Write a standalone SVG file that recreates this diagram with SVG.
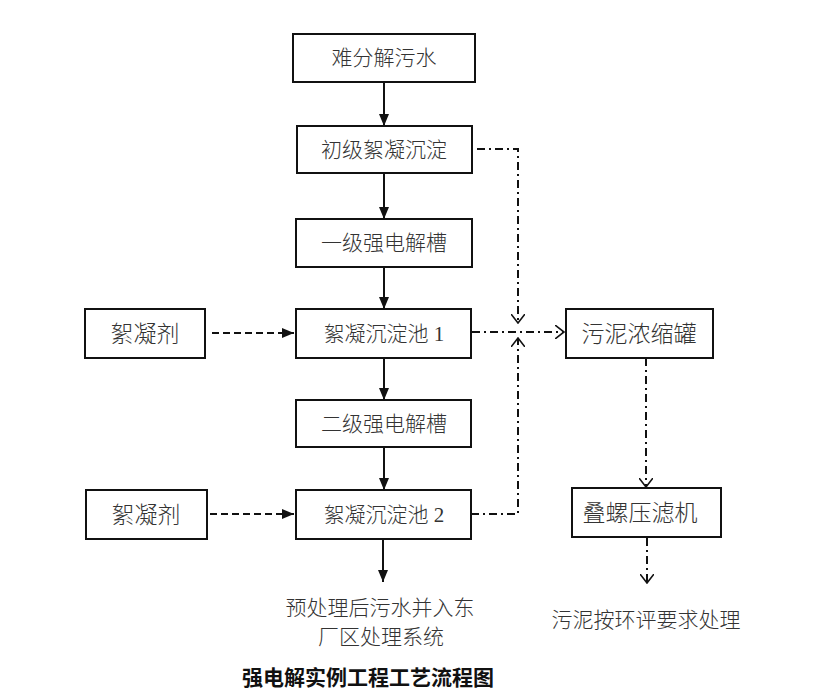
<svg xmlns="http://www.w3.org/2000/svg" width="820" height="692" viewBox="0 0 820 692">
<style>
.box{fill:#fff;stroke:#111;stroke-width:2}
.t{font-family:"Liberation Serif","Noto Sans CJK SC",serif;font-size:21px;fill:#333;text-anchor:middle;dominant-baseline:central;font-weight:300}
.tl{font-size:23px}
.title{font-family:"Liberation Serif","Noto Sans CJK SC",serif;font-size:21px;fill:#111;text-anchor:middle;dominant-baseline:central;font-weight:bold}
.solid{stroke:#111;stroke-width:2;fill:none}
.dash{stroke:#111;stroke-width:2;fill:none;stroke-dasharray:7 4}
.dd{stroke:#111;stroke-width:2;fill:none;stroke-dasharray:8 4 2 4}
</style>
<defs>
<marker id="fa" viewBox="0 0 12 10" refX="12" refY="5" markerWidth="12" markerHeight="10" markerUnits="userSpaceOnUse" orient="auto">
<path d="M0,0 L12,5 L0,10 Z" fill="#111"/>
</marker>
<marker id="oa" viewBox="0 0 10 14" refX="9" refY="7" markerWidth="10" markerHeight="14" markerUnits="userSpaceOnUse" orient="auto">
<path d="M0,0 L9,7 L0,14" fill="none" stroke="#111" stroke-width="1.6"/>
</marker>
</defs>
<rect width="820" height="692" fill="#fff"/>

<g id="connectors">
<line class="solid" x1="384" y1="82" x2="384" y2="126" marker-end="url(#fa)"/>
<line class="solid" x1="384" y1="173" x2="384" y2="219" marker-end="url(#fa)"/>
<line class="solid" x1="384" y1="267" x2="384" y2="309" marker-end="url(#fa)"/>
<line class="solid" x1="384" y1="358" x2="384" y2="400" marker-end="url(#fa)"/>
<line class="solid" x1="384" y1="447" x2="384" y2="490" marker-end="url(#fa)"/>
<line class="solid" x1="383" y1="539" x2="383" y2="582" marker-end="url(#fa)"/>
<line class="dash" x1="212" y1="333" x2="294" y2="333" marker-end="url(#fa)"/>
<line class="dash" x1="210" y1="514" x2="294" y2="514" marker-end="url(#fa)"/>
<polyline class="dd" points="477,149 518,149 518,323" marker-end="url(#oa)"/>
<polyline class="dd" points="471,514 518,514 518,338" marker-end="url(#oa)"/>
<line class="dd" x1="472" y1="332" x2="564" y2="332" marker-end="url(#oa)"/>
<line class="dd" x1="646" y1="358" x2="646" y2="487" marker-end="url(#oa)"/>
<line class="dd" x1="647" y1="538" x2="647" y2="583" marker-end="url(#oa)"/>
</g>

<g id="n1"><rect class="box" x="293" y="34" width="182" height="48"/><text class="t" x="384" y="58">难分解污水</text></g>
<g id="n2"><rect class="box" x="297" y="126" width="175" height="47"/><text class="t" x="384" y="150">初级絮凝沉淀</text></g>
<g id="n3"><rect class="box" x="296" y="219" width="176" height="48"/><text class="t" x="384" y="243">一级强电解槽</text></g>
<g id="n4"><rect class="box" x="296" y="309" width="175" height="49"/><text class="t" x="384" y="334">絮凝沉淀池 1</text></g>
<g id="n5"><rect class="box" x="296" y="400" width="175" height="47"/><text class="t" x="384" y="424">二级强电解槽</text></g>
<g id="n6"><rect class="box" x="296" y="490" width="175" height="49"/><text class="t" x="384" y="515">絮凝沉淀池 2</text></g>
<g id="n7"><rect class="box" x="85" y="309" width="120" height="49"/><text class="t tl" x="145" y="334">絮凝剂</text></g>
<g id="n8"><rect class="box" x="86" y="490" width="121" height="49"/><text class="t tl" x="146" y="515">絮凝剂</text></g>
<g id="n9"><rect class="box" x="566" y="309" width="147" height="49"/><text class="t tl" x="639" y="334">污泥浓缩罐</text></g>
<g id="n10"><rect class="box" x="572" y="488" width="149" height="49"/><text class="t tl" x="640" y="513">叠螺压滤机</text></g>
<g id="n11"><text class="t" x="380" y="608">预处理后污水并入东</text><text class="t" x="381" y="637">厂区处理系统</text></g>
<g id="n12"><text class="t" x="646" y="620">污泥按环评要求处理</text></g>
<text class="title" x="368" y="678">强电解实例工程工艺流程图</text>
</svg>
